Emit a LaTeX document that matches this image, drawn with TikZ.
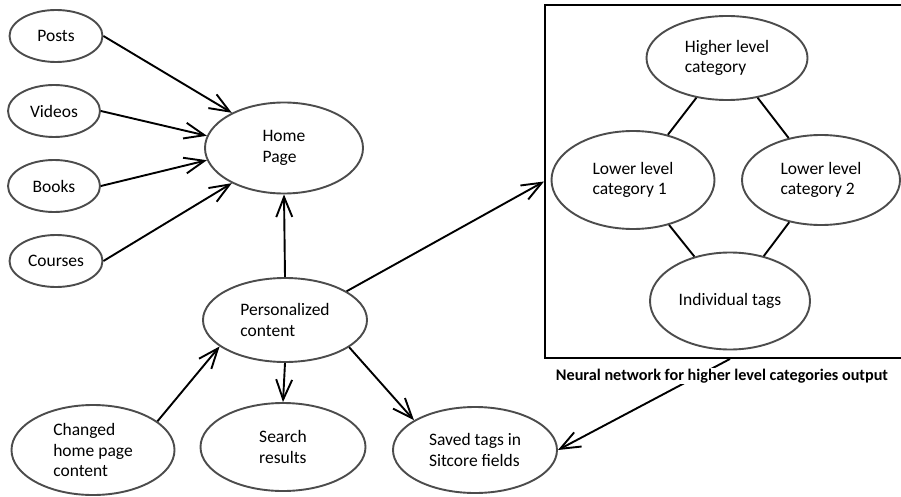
\documentclass[tikz,border=0pt]{standalone}
\usepackage{fontspec}
\setmainfont{Carlito}
\usetikzlibrary{shapes.geometric,arrows.meta}
\tikzset{
  oval/.style={ellipse, draw=black!70, line width=1.9pt, inner sep=0pt, align=left,
    font=\fontsize{17.5}{20.5}\selectfont},
  arr/.style={line width=1.9pt, -{Straight Barb[length=20pt,width=16pt]}},
  link/.style={line width=1.9pt}
}
\begin{document}
\begin{tikzpicture}[x=1pt,y=-1pt]
\useasboundingbox (0,0) rectangle (901,497);
\fill[white] (0,0) rectangle (901,497);
% box
\node[draw=black, line width=1.9pt, minimum width=358pt, minimum height=353pt, inner sep=0pt] (nn) at (724,181.5) {};
% left column
\node[oval, minimum width=93pt, minimum height=52pt] (posts) at (56,36) {Posts};
\node[oval, minimum width=92pt, minimum height=52pt] (videos) at (54,111) {Videos};
\node[oval, minimum width=92pt, minimum height=52pt] (books) at (54,186) {Books};
\node[oval, minimum width=93pt, minimum height=52pt] (courses) at (56,261) {Courses};
\node[oval, minimum width=158pt, minimum height=91pt] (home) at (284,148) {Home\\Page};
\node[oval, minimum width=164pt, minimum height=84pt] (pers) at (285,320) {Personalized\\content};
\node[oval, minimum width=163pt, minimum height=90pt] (chg) at (93,450) {Changed\\home page\\content};
\node[oval, minimum width=165pt, minimum height=88pt] (search) at (283,447) {Search\\results};
\node[oval, minimum width=164pt, minimum height=86pt] (saved) at (475,450) {Saved tags in\\Sitcore fields};
% neural network
\node[oval, minimum width=161pt, minimum height=84pt] (hi) at (727,58) {Higher level\\category};
\node[oval, minimum width=163pt, minimum height=98pt] (lo1) at (633,180) {Lower level\\category 1};
\node[oval, minimum width=158pt, minimum height=90pt] (lo2) at (821,180) {Lower level\\category 2};
\node[oval, minimum width=160pt, minimum height=97pt] (ind) at (730,301) {Individual tags};
\draw[link] (hi) -- (lo1);
\draw[link] (hi) -- (lo2);
\draw[link] (lo1) -- (ind);
\draw[link] (lo2) -- (ind);
% arrows
\draw[arr] (posts.east) -- (home.146);
\draw[arr] (videos.east) -- (home.171);
\draw[arr] (books.east) -- (home.189);
\draw[arr] (courses.east) -- (home.214);
\draw[arr] (pers.north) -- (home.south);
\draw[arr] (chg.24) -- (pers.202);
\draw[arr] (pers.south) -- (search.north);
\draw[arr] (pers.337) -- (saved.154);
\draw[arr] (pers.25) -- (nn.west);
\draw[arr] ([xshift=6pt]nn.south) -- (saved.east);
\node[fill=white, inner sep=1pt, font=\bfseries\fontsize{16.2}{19}\selectfont] (cap) at (722,376) {Neural network for higher level categories output};
\end{tikzpicture}
\end{document}
